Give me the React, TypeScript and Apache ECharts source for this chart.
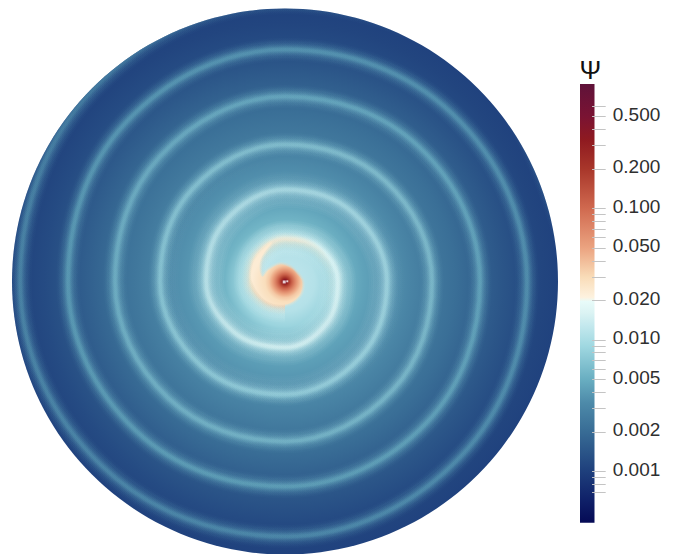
import React, { useEffect, useRef } from "react";
import * as echarts from "echarts";

// Colour scale: psi value -> colour
const mapPsi = [0.88, 0.5, 0.33, 0.2, 0.1, 0.05, 0.03, 0.021, 0.0195, 0.016, 0.013, 0.009, 0.005, 0.0033, 0.002, 0.001, 0.0006, 0.000406];
const mapHex = ["#5f1239", "#7a1333", "#8f1a20", "#a8362a", "#d0694f", "#eba380", "#f9dcb8", "#fdf2df", "#e8fbf9", "#dbf3f3", "#c5e9ee", "#a0d8e1", "#69aec1", "#4d8aa9", "#386c95", "#1e3f7c", "#0f2068", "#050a55"];

// Colour bar ticks
const majorTicks = [0.5, 0.2, 0.1, 0.05, 0.02, 0.01, 0.005, 0.002, 0.001];
const allTicks = [0.6, 0.5, 0.4, 0.3, 0.2, 0.1, 0.09, 0.08, 0.07, 0.06, 0.05, 0.04, 0.03, 0.02, 0.01, 0.009, 0.008, 0.007, 0.006, 0.005, 0.004, 0.003, 0.002, 0.001, 0.0009, 0.0008, 0.0007];

// Background level between the arms: radius -> psi
const floorRadius = [0, 20, 30, 45, 60, 78, 100, 125, 150, 170, 195, 218, 240, 258, 273];
const floorPsi = [0.012, 0.0115, 0.011, 0.0085, 0.0055, 0.0044, 0.0037, 0.003, 0.0024, 0.0021, 0.0017, 0.0014, 0.0012, 0.0011, 0.00105];

// Spiral crest: radius and angle (0 = east, clockwise), read every 45 degrees
const crestRadius = [23, 27, 33, 38, 43, 48, 53, 59, 66, 72, 79, 85, 92, 97, 102, 107, 113, 119, 125, 131, 137, 142, 147, 153, 160, 165, 170, 177, 185, 190, 195, 200, 205, 211, 217, 225, 232, 237, 242, 248, 255, 260, 265, 272, 279, 286, 292];
const crestAngle = [90, 135, 180, 225, 270, 315, 0, 45, 90, 135, 180, 225, 270, 315, 0, 45, 90, 135, 180, 225, 270, 315, 0, 45, 90, 135, 180, 225, 270, 315, 0, 45, 90, 135, 180, 225, 270, 315, 0, 45, 90, 135, 180, 225, 270, 315, 0];
const bloomCount = 24;

// Crest level: radius -> psi
const peakRadius = [0, 18, 25, 33, 42, 50, 60, 66, 80, 92, 102, 125, 137, 170, 185, 217, 232, 265, 272, 279, 286, 300];
const peakPsi = [0.04, 0.04, 0.036, 0.03, 0.024, 0.019, 0.017, 0.018, 0.013, 0.011, 0.0098, 0.008, 0.0074, 0.006, 0.0054, 0.0047, 0.0044, 0.0036, 0.0032, 0.002, 0.0012, 0.001];

// Extra glow of the inner arm: radius -> strength
const bloomRadius = [0, 60, 85, 125, 140];
const bloomAlpha = [1, 1, 0.6, 0, 0];

// Central hook outline and its level
const hookRadius = [17, 20, 23, 27, 33, 36, 38, 41, 33.5, 28, 23, 20, 17.7, 15, 14];
const hookAngle = [0, 45, 90, 135, 180, 205, 225, 250, 225, 205, 192, 215, 254, 290, 320];
const hookLevelRadius = [0, 2, 4, 7, 10, 13, 16, 20, 33, 42];
const hookLevelPsi = [0.5, 0.35, 0.2, 0.11, 0.07, 0.048, 0.036, 0.029, 0.023, 0.024];

// Bright specks in the very centre: radius, angle, size
const speckRadius = [0.9, 2.3];
const speckAngle = [150, 355];
const speckSize = [3, 2];

// Soft crest: stroke layers, wide to narrow
const crestWidths = [23, 20, 18, 16, 13, 11, 9, 7, 5.5, 4, 2.5];
const crestOpacity = [0.03, 0.04, 0.05, 0.07, 0.09, 0.11, 0.14, 0.16, 0.2, 0.22, 0.25];
const bloomWidths = [36, 32, 28];
const bloomOpacity = [0.05, 0.06, 0.07];

const psiMin = 0.000406;
const psiMax = 0.88;
const CX = 285;
const CY = 281.5;
const R = 273;
const TICK_FROM = 0.83;
const TICK_TO = 1.772;
const LABEL_AT = 2.26;
const LABEL_SHIFT = -2;

function hexToRgb(h: string) {
  return [1, 3, 5].map((i) => parseInt(h.slice(i, i + 2), 16));
}
function rgbAt(psi: number) {
  const v = Math.log10(psi);
  for (let i = 0; i < mapPsi.length - 1; i++) {
    const a = Math.log10(mapPsi[i]);
    const b = Math.log10(mapPsi[i + 1]);
    if (v <= a && v >= b) {
      const t = (a - v) / (a - b);
      const c0 = hexToRgb(mapHex[i]);
      const c1 = hexToRgb(mapHex[i + 1]);
      return c0.map((c, k) => Math.round(c + (c1[k] - c) * t));
    }
  }
  return hexToRgb(v > Math.log10(mapPsi[0]) ? mapHex[0] : mapHex[mapHex.length - 1]);
}
function colorAt(psi: number) {
  return `rgb(${rgbAt(psi).join(",")})`;
}
function radialFill(radii: number[], psis: number[], extent: number) {
  return {
    type: "radial",
    x: CX,
    y: CY,
    r: extent,
    global: true,
    colorStops: radii.map((r, i) => ({ offset: Math.min(1, r / extent), color: colorAt(psis[i]) })),
  };
}
function bloomFill(extent: number) {
  return {
    type: "radial",
    x: CX,
    y: CY,
    r: extent,
    global: true,
    colorStops: bloomRadius.map((r, i) => ({
      offset: Math.min(1, r / extent),
      color: `rgba(${rgbAt(0.017).join(",")},${bloomAlpha[i]})`,
    })),
  };
}

export default function App() {
  const ref = useRef<HTMLDivElement>(null);
  useEffect(() => {
    document.body.style.margin = "0";
    const chart = echarts.init(ref.current!, undefined, { renderer: "svg" });

    const crestData = crestRadius.map((r, i) => [r, crestAngle[i]]);
    const crestFill = radialFill(peakRadius, peakPsi, 300);
    const hookFill = radialFill(hookLevelRadius, hookLevelPsi, 42);

    const lineBase = {
      type: "line",
      coordinateSystem: "polar",
      polarIndex: 0,
      smooth: 0.375,
      showSymbol: false,
      silent: true,
    };
    const crestSeries = crestWidths.map((w, i) => ({
      ...lineBase,
      data: crestData,
      z: 3 + i * 0.1,
      lineStyle: { width: w, opacity: crestOpacity[i], color: crestFill },
    }));
    const bloomSeries = bloomWidths.map((w, i) => ({
      ...lineBase,
      data: crestData.slice(0, bloomCount),
      z: 2 + i * 0.1,
      lineStyle: { width: w, opacity: bloomOpacity[i], color: bloomFill(140) },
    }));

    const logMax = Math.log10(psiMax);
    const logMin = Math.log10(psiMin);
    const barStops = mapPsi.map((p, i) => ({
      offset: Math.max(0, Math.min(1, (logMax - Math.log10(p)) / (logMax - logMin))),
      color: mapHex[i],
    }));

    chart.setOption({
      animation: false,
      backgroundColor: "#ffffff",
      polar: { center: [CX, CY], radius: [0, R] },
      angleAxis: { show: false, type: "value", min: 0, max: 360, startAngle: 0, clockwise: true },
      radiusAxis: { show: false, type: "value", min: 0, max: R },
      grid: { left: 580, top: 84, width: 14.5, height: 438.7, containLabel: false },
      xAxis: { type: "value", min: 0, max: 1, show: false },
      yAxis: {
        type: "log",
        min: psiMin,
        max: psiMax,
        position: "right",
        splitLine: { show: false },
        axisLine: { show: false },
        axisTick: { show: false },
        axisLabel: { show: false },
      },
      graphic: [
        {
          type: "text",
          left: 579.5,
          top: 57,
          z: 20,
          style: { text: "Ψ", fontSize: 26, fontFamily: "Liberation Sans", fill: "#111" },
        },
      ],
      series: [
        {
          type: "custom",
          coordinateSystem: "polar",
          polarIndex: 0,
          silent: true,
          z: 1,
          data: floorRadius.map((r, i) => [r, floorPsi[i]]),
          renderItem: (params: any, api: any) => {
            if (params.dataIndex !== 0) return null;
            const p = api.coord([R, 0]);
            const cs = params.coordSys;
            return {
              type: "circle",
              shape: { cx: cs.cx, cy: cs.cy, r: Math.hypot(p[0] - cs.cx, p[1] - cs.cy) },
              style: { fill: radialFill(floorRadius, floorPsi, R) },
            };
          },
        },
        ...bloomSeries,
        ...crestSeries,
        {
          type: "custom",
          coordinateSystem: "polar",
          polarIndex: 0,
          silent: true,
          z: 12,
          data: hookRadius.map((r, i) => [r, hookAngle[i]]),
          renderItem: (params: any, api: any) => {
            if (params.dataIndex !== 0) return null;
            const pts = hookRadius.map((r, i) => api.coord([r, hookAngle[i]]));
            const poly = (w: number, o: number) => ({
              type: "polygon",
              shape: { points: pts, smooth: 0.35 },
              style: { fill: w ? "none" : hookFill, stroke: w ? hookFill : "none", lineWidth: w, opacity: o },
            });
            return {
              type: "group",
              children: [poly(5, 0.18), poly(3, 0.25), poly(1.5, 0.35), poly(0, 1)],
            };
          },
        },
        {
          type: "scatter",
          coordinateSystem: "polar",
          polarIndex: 0,
          silent: true,
          z: 13,
          symbol: "rect",
          symbolSize: (_: any, p: any) => speckSize[p.dataIndex],
          itemStyle: { color: "#ffffff" },
          data: speckRadius.map((r, i) => [r, speckAngle[i]]),
        },
        {
          type: "custom",
          coordinateSystem: "cartesian2d",
          silent: true,
          z: 2,
          data: [[0, psiMax]],
          renderItem: (params: any, api: any) => {
            const top = api.coord([0, psiMax]);
            const bottom = api.coord([0, psiMin]);
            return {
              type: "rect",
              shape: { x: top[0], y: top[1], width: params.coordSys.width, height: bottom[1] - top[1] },
              style: { fill: new echarts.graphic.LinearGradient(0, 0, 0, 1, barStops) },
            };
          },
        },
        {
          type: "custom",
          coordinateSystem: "cartesian2d",
          silent: true,
          z: 3,
          data: allTicks.map((v) => [0, v]),
          renderItem: (_: any, api: any) => {
            const a = api.coord([TICK_FROM, api.value(1)]);
            const b = api.coord([TICK_TO, api.value(1)]);
            const y = Math.round(a[1]) + 0.5;
            return {
              type: "line",
              shape: { x1: a[0], y1: y, x2: b[0], y2: y },
              style: { stroke: "#c4c4c4", lineWidth: 1 },
            };
          },
        },
        {
          type: "custom",
          coordinateSystem: "cartesian2d",
          silent: true,
          z: 4,
          data: majorTicks.map((v) => [0, v]),
          renderItem: (_: any, api: any) => {
            const v = api.value(1);
            const p = api.coord([LABEL_AT, v]);
            return {
              type: "text",
              x: p[0],
              y: p[1] + LABEL_SHIFT,
              style: {
                text: v.toFixed(3),
                fontFamily: "Liberation Sans",
                fontSize: 19,
                fill: "#2f2f2f",
                align: "left",
                verticalAlign: "middle",
              },
            };
          },
        },
      ],
    } as any);
    return () => chart.dispose();
  }, []);
  return <div ref={ref} style={{ position: "fixed", left: 0, top: 0, width: 676, height: 554 }} />;
}
